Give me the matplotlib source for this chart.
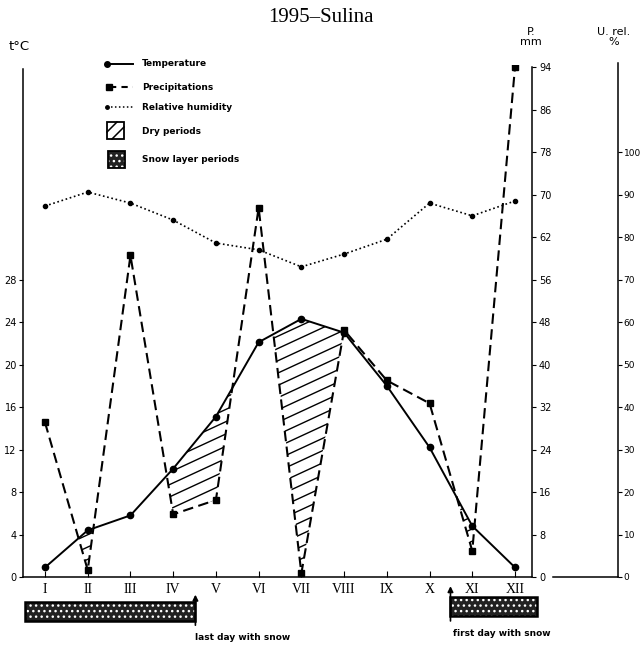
import matplotlib
matplotlib.use('Agg')
import matplotlib.pyplot as plt
import numpy as np
from matplotlib.lines import Line2D
from matplotlib.patches import Rectangle
from matplotlib.path import Path

# monthly values, Sulina 1995
months = ['I', 'II', 'III', 'IV', 'V', 'VI', 'VII', 'VIII', 'IX', 'X', 'XI', 'XII']
temperature = [0.9, 4.4, 5.8, 10.2, 15.1, 22.1, 24.3, 23.0, 18.0, 12.2, 4.8, 0.9]
precipitation = [29.1, 1.3, 59.4, 11.8, 14.5, 67.5, 0.7, 46.5, 37.0, 32.7, 4.9, 94.0]
humidity = [87.3, 90.6, 88.0, 84.0, 78.6, 77.0, 73.0, 76.0, 79.5, 88.0, 85.0, 88.5]

temp_ticks = [0, 4, 8, 12, 16, 20, 24, 28]
precip_ticks = [0, 8, 16, 24, 32, 40, 48, 56, 62, 70, 78, 86, 94]
hum_ticks = [0, 10, 20, 30, 40, 50, 60, 70, 80, 90, 100]

# snow layer periods on the month axis
last_snow = 4.52
first_snow = 10.49

W, H = 642, 647


def fx(px):
    return px / W


def fy(py):
    return 1 - py / H


# precipitation axis: printed labels sit at equal steps (8 mm = 4 degC)
p_lab = np.array([-100] + precip_ticks + [200], dtype=float)
p_pos = np.array([-100] + [8 * i for i in range(len(precip_ticks))] + [202], dtype=float)


def p_fwd(v):
    return np.interp(v, p_lab, p_pos)


def p_inv(v):
    return np.interp(v, p_pos, p_lab)


x = np.arange(1, 13)
T = np.array(temperature)
P_t = p_fwd(np.array(precipitation)) / 2

fig = plt.figure(figsize=(6.42, 6.47), dpi=100)
ax = fig.add_axes([fx(23), fy(577), 509 / W, 512 / H])
ymax = 48.2
ax.set_xlim(1 - 22 / 42.73, 12 + 17 / 42.73)
ax.set_ylim(0, ymax)

for s in ['top', 'right']:
    ax.spines[s].set_visible(False)
ax.spines['left'].set_bounds(0, 47.8)
ax.spines['left'].set_linewidth(1.1)
ax.spines['bottom'].set_linewidth(1.1)
ax.set_yticks(temp_ticks)
ax.set_yticklabels([str(t) for t in temp_ticks])
ax.tick_params(axis='y', direction='out', length=3, labelsize=7, pad=1.5)
ax.set_xticks(x)
ax.set_xticklabels(months, family='Liberation Serif', fontsize=10)
ax.tick_params(axis='x', direction='in', length=4, pad=4)

# dry periods: precipitation curve below temperature curve
dry = ax.fill_between(x, P_t, T, where=T > P_t, interpolate=True,
                      facecolor='none', lw=0)
clip = Path.make_compound_path(*dry.get_paths())
for c in np.arange(-0.6, 1.05, 0.024):
    ln = Line2D([0, 1], [c, c + 0.46], transform=ax.transAxes, color='k', lw=1.0)
    ax.add_line(ln)
    ln.set_clip_path(clip, ax.transData)
ax.set_xlim(1 - 22 / 42.73, 12 + 17 / 42.73)
ax.set_ylim(0, ymax)

ax.plot(x, T, color='k', lw=1.4, marker='o', ms=4.5, zorder=5)

# precipitation axis
axp = ax.twinx()
axp.set_yscale('function', functions=(p_fwd, p_inv))
axp.set_ylim(0, p_inv(2 * ymax))
for s in ['top', 'left', 'bottom']:
    axp.spines[s].set_visible(False)
axp.spines['right'].set_bounds(0, 94)
axp.spines['right'].set_linewidth(1.1)
axp.set_yticks(precip_ticks)
axp.set_yticklabels([str(p) for p in precip_ticks])
axp.yaxis.set_minor_locator(matplotlib.ticker.NullLocator())
axp.tick_params(axis='y', direction='out', length=3, labelsize=7, pad=2)
axp.plot(x, precipitation, color='k', lw=1.5, ls=(0, (5, 2.6)), marker='s', ms=4.5)

# relative humidity axis
hum_x = 618
axh = ax.twinx()
axh.set_ylim(0, ymax * 2.5)
for s in ['top', 'left', 'bottom']:
    axh.spines[s].set_visible(False)
axh.spines['right'].set_position(('axes', (hum_x - 23) / 509))
axh.spines['right'].set_bounds(0, 121)
axh.spines['right'].set_linewidth(1.1)
axh.set_yticks(hum_ticks)
axh.set_yticklabels([str(h) for h in hum_ticks])
axh.tick_params(axis='y', direction='out', length=3, labelsize=6.5, pad=1)
axh.plot(x, humidity, color='k', lw=1.2, ls=(0, (1, 1.6)), marker='o', ms=3)

# short base line running to the humidity axis
ax.plot([12 + (553 - 515) / 42.73, 12 + (hum_x - 515) / 42.73], [0, 0],
        color='k', lw=1.1, clip_on=False)

# snow layer bars
def snow_bar(x0, x1, y0, y1):
    ax.add_patch(Rectangle((x0, y0), x1 - x0, y1 - y0, facecolor='#222222',
                           edgecolor='white', hatch='...', lw=0, clip_on=False))
    ax.add_patch(Rectangle((x0, y0), x1 - x0, y1 - y0, fill=False,
                           edgecolor='k', lw=1.8, clip_on=False))


snow_bar(1 - 20 / 42.73, last_snow, -4.1, -2.4)
snow_bar(first_snow, 12 + 22 / 42.73, -3.7, -1.9)
ax.annotate('', xy=(last_snow, -1.4), xytext=(last_snow, -4.8),
            arrowprops=dict(arrowstyle='-|>', color='k', lw=1.2, mutation_scale=8),
            annotation_clip=False)
ax.annotate('', xy=(first_snow, -0.6), xytext=(first_snow, -4.4),
            arrowprops=dict(arrowstyle='-|>', color='k', lw=1.2, mutation_scale=8),
            annotation_clip=False)
fig.text(fx(195), fy(638), 'last day with snow', fontsize=6.5, weight='bold', va='center')
fig.text(fx(453), fy(633), 'first day with snow', fontsize=6.5, weight='bold', va='center')

# titles and axis headers
fig.text(0.5, fy(18), '1995\u2013Sulina', ha='center', va='center',
         family='Liberation Serif', fontsize=15)
fig.text(fx(9), fy(47), 't°C', va='center', fontsize=9.5)
fig.text(fx(531), fy(37), 'P.\nmm', ha='center', va='center', fontsize=8, linespacing=1.0)
fig.text(fx(614), fy(37), 'U. rel.\n%', ha='center', va='center', fontsize=8, linespacing=1.0)

# legend
fig.add_artist(Line2D([fx(107), fx(133)], [fy(64)] * 2, transform=fig.transFigure,
                      color='k', lw=1.4))
fig.add_artist(Line2D([fx(107)], [fy(64)], transform=fig.transFigure,
                      color='k', marker='o', ms=4))
fig.add_artist(Line2D([fx(110), fx(133)], [fy(87)] * 2, transform=fig.transFigure,
                      color='k', lw=1.5, ls=(0, (3, 2.5))))
fig.add_artist(Line2D([fx(109)], [fy(87)], transform=fig.transFigure,
                      color='k', marker='s', ms=4))
fig.add_artist(Line2D([fx(107), fx(133)], [fy(107)] * 2, transform=fig.transFigure,
                      color='k', lw=1.1, ls=(0, (1, 1.6))))
fig.add_artist(Line2D([fx(107)], [fy(107)], transform=fig.transFigure,
                      color='k', marker='o', ms=2.5))
fig.add_artist(Rectangle((fx(107), fy(139)), 17 / W, 17 / H, transform=fig.transFigure,
                         fill=False, edgecolor='k', lw=1.3))
for (xa, ya), (xb, yb) in [((107, 132), (117, 122)), ((112, 139), (124, 127))]:
    fig.add_artist(Line2D([fx(xa), fx(xb)], [fy(ya), fy(yb)], transform=fig.transFigure,
                          color='k', lw=1.1))
fig.add_artist(Rectangle((fx(108), fy(168)), 17 / W, 17 / H, transform=fig.transFigure,
                         facecolor='#222222', edgecolor='white', hatch='...', lw=0))
fig.add_artist(Rectangle((fx(108), fy(168)), 17 / W, 17 / H, transform=fig.transFigure,
                         fill=False, edgecolor='k', lw=1.3))
legend_labels = ['Temperature', 'Precipitations', 'Relative humidity',
                 'Dry periods', 'Snow layer periods']
for lab, py in zip(legend_labels, [64, 87, 107, 131, 159]):
    fig.text(fx(142), fy(py), lab, fontsize=6.5, weight='bold', va='center')

fig.savefig('out.png', dpi=100)
